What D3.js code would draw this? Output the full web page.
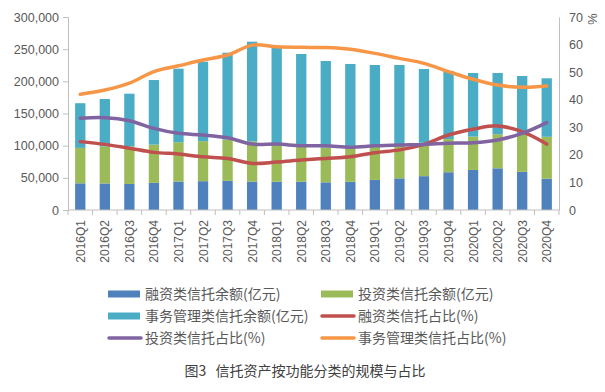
<!DOCTYPE html>
<html><head><meta charset="utf-8">
<script src="https://cdn.jsdelivr.net/npm/d3@7"></script>
<style>
html,body{margin:0;padding:0;background:#fff;}
svg{display:block;}
text{font-family:"Liberation Sans","Noto Sans CJK SC",sans-serif;}
.cjk{font-family:"Noto Sans CJK SC","Liberation Sans",sans-serif;}
</style></head>
<body>
<script>
const categories = ["2016Q1","2016Q2","2016Q3","2016Q4","2017Q1","2017Q2","2017Q3","2017Q4","2018Q1","2018Q2","2018Q3","2018Q4","2019Q1","2019Q2","2019Q3","2019Q4","2020Q1","2020Q2","2020Q3","2020Q4"];
const financingAmt = [41500,41300,40500,42300,44300,44800,45300,44200,43900,43900,43000,43800,46800,49200,52600,58700,62300,64800,59400,48600];
const investmentAmt = [55000,57500,58500,59300,61000,62200,64000,62500,60300,56500,54000,51800,52500,53200,52000,51500,51800,53000,58600,65200];
const managementAmt = [69500,73700,81800,100400,114400,123500,135200,154900,148100,142100,134600,131400,126100,123000,114600,105900,98900,95200,90300,90900];
const financingPct = [24.8,23.8,22.4,20.9,20.3,19.3,18.7,16.9,17.4,18.1,18.7,19.3,20.8,21.8,23.8,27.2,29.3,30.5,28.4,23.9];
const investmentPct = [33.3,33.5,32.4,29.6,27.8,27.2,26.2,23.9,23.9,23.3,23.3,22.8,23.3,23.6,23.8,24.2,24.4,25.4,27.8,31.7];
const managementPct = [42.0,43.5,46.0,50.2,52.3,54.4,56.2,59.8,59.2,59.0,58.9,58.3,56.8,55.0,53.2,50.2,47.4,45.3,44.5,45.0];
const leftTicks = [0,50000,100000,150000,200000,250000,300000];
const rightTicks = [0,10,20,30,40,50,60,70];
const legendLabels = ["融资类信托余额(亿元)","投资类信托余额(亿元)","事务管理类信托余额(亿元)","融资类信托占比(%)","投资类信托占比(%)","事务管理类信托占比(%)"];
const titleText = "图3\u00a0\u00a0\u00a0信托资产按功能分类的规模与占比";

const W = 605, H = 392;
const plot = {left: 68, right: 559, top: 17, bottom: 210};
const colors = {fin:"#4F81BD", inv:"#9BBB59", mgt:"#4BACC6", finL:"#C0504D", invL:"#8064A2", mgtL:"#F79646"};
const textGray = "#595959", axisGray = "#BFBFBF";

const svg = d3.select("body").append("svg").attr("width", W).attr("height", H);

const x = d3.scaleBand().domain(categories).range([plot.left, plot.right]).paddingInner(0.58).paddingOuter(0.29);
const yL = d3.scaleLinear().domain([0, 300000]).range([plot.bottom, plot.top]);
const yR = d3.scaleLinear().domain([0, 70]).range([plot.bottom, plot.top]);

// stacked bars
const rows = categories.map((c, i) => ({cat: c, fin: financingAmt[i], inv: investmentAmt[i], mgt: managementAmt[i]}));
const stack = d3.stack().keys(["fin","inv","mgt"])(rows);
svg.append("g").selectAll("g").data(stack).join("g")
  .attr("fill", d => colors[d.key])
  .selectAll("rect").data(d => d).join("rect")
  .attr("x", d => x(d.data.cat))
  .attr("width", x.bandwidth())
  .attr("y", d => yL(d[1]))
  .attr("height", d => yL(d[0]) - yL(d[1]));

// left axis
const fmt = d3.format(",");
const gL = svg.append("g").attr("transform", `translate(${plot.left},0)`)
  .call(d3.axisLeft(yL).tickValues(leftTicks).tickFormat(fmt).tickSize(5).tickPadding(4));
gL.selectAll("path,line").attr("stroke", axisGray);
gL.selectAll("text").attr("fill", textGray).attr("font-size", 12.5);

// right axis
const gR = svg.append("g").attr("transform", `translate(${plot.right},0)`)
  .call(d3.axisRight(yR).tickValues(rightTicks).tickSize(0).tickPadding(10));
gR.select("path").attr("stroke", axisGray);
gR.selectAll("text").attr("fill", textGray).attr("font-size", 12.5);
svg.append("text").attr("transform", `translate(588,19) rotate(90)`)
  .attr("font-size", 13).attr("fill", textGray).attr("text-anchor", "middle").text("%");

// bottom axis
const step = x.step();
const gB = svg.append("g").attr("transform", `translate(0,${plot.bottom})`);
gB.append("line").attr("x1", plot.left).attr("x2", plot.right).attr("stroke", axisGray);
gB.selectAll("line.tk").data(d3.range(categories.length + 1)).join("line").attr("class","tk")
  .attr("x1", i => plot.left + i * step).attr("x2", i => plot.left + i * step)
  .attr("y1", 0).attr("y2", 5).attr("stroke", axisGray);
gB.selectAll("text").data(categories).join("text")
  .attr("transform", d => `translate(${x(d) + x.bandwidth()/2 + 4.5},10) rotate(-90)`)
  .attr("text-anchor", "end").attr("font-size", 12).attr("fill", textGray).text(d => d);

// lines
const lineGen = d3.line().x((d, i) => x(categories[i]) + x.bandwidth()/2).y(d => yR(d)).curve(d3.curveCatmullRom.alpha(0.5));
[[financingPct, colors.finL],[investmentPct, colors.invL],[managementPct, colors.mgtL]].forEach(([data, col]) => {
  svg.append("path").datum(data).attr("d", lineGen).attr("fill","none").attr("stroke", col)
    .attr("stroke-width", 3.5).attr("stroke-linejoin","round").attr("stroke-linecap","round");
});

// legend
const legendItems = [
  {label: legendLabels[0], color: colors.fin, type: "bar", col: 0, row: 0},
  {label: legendLabels[1], color: colors.inv, type: "bar", col: 1, row: 0},
  {label: legendLabels[2], color: colors.mgt, type: "bar", col: 0, row: 1},
  {label: legendLabels[3], color: colors.finL, type: "line", col: 1, row: 1},
  {label: legendLabels[4], color: colors.invL, type: "line", col: 0, row: 2},
  {label: legendLabels[5], color: colors.mgtL, type: "line", col: 1, row: 2}
];
const colX = [108, 321], rowY = [294, 316, 338];
const lg = svg.append("g");
legendItems.forEach(it => {
  const gx = colX[it.col], gy = rowY[it.row];
  if (it.type === "bar") {
    lg.append("rect").attr("x", gx).attr("y", gy - 3.5).attr("width", 32).attr("height", 7).attr("fill", it.color);
  } else {
    lg.append("line").attr("x1", gx + 1).attr("x2", gx + 33).attr("y1", gy).attr("y2", gy)
      .attr("stroke", it.color).attr("stroke-width", 3.5).attr("stroke-linecap","round");
  }
  lg.append("text").attr("class","cjk").attr("x", gx + 37).attr("y", gy).attr("dy", "0.35em")
    .attr("font-size", 14).attr("fill", textGray).text(it.label);
});

svg.append("text").attr("class","cjk").attr("x", 305).attr("y", 371).attr("dy","0.35em")
  .attr("text-anchor","middle").attr("font-size", 14).attr("fill", "#404040").text(titleText);
</script>
</body></html>
